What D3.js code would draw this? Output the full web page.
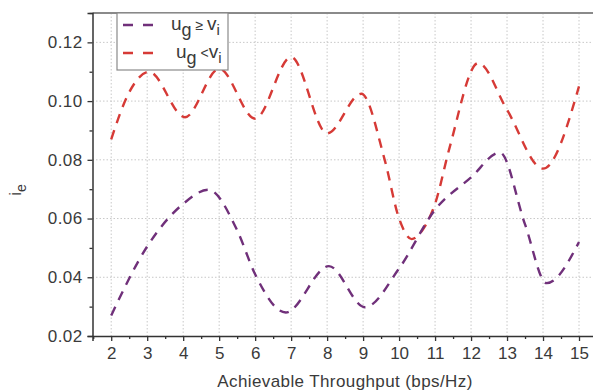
<!DOCTYPE html>
<html>
<head>
<meta charset="utf-8">
<script src="https://cdn.jsdelivr.net/npm/d3@7"></script>
<style>
  html, body { margin: 0; padding: 0; background: #fff; }
  svg { display: block; }
  text { font-family: "Liberation Sans", Arial, Helvetica, sans-serif; fill: #3a3a3a; }
</style>
</head>
<body>
<svg id="chart" width="593" height="392"></svg>
<script>
// Interference level i_e versus achievable throughput, two regimes
const seriesNames = ["ug_ge_vi", "ug_lt_vi"];

// u_g >= v_i  (x in bps/Hz, y = i_e)
const geX = [2, 3, 4, 4.7, 5.5, 6, 6.85, 8.05, 9.05, 10, 11, 12, 12.8, 13.5, 14.1, 15];
const geY = [0.027, 0.0505, 0.065, 0.0698, 0.056, 0.041, 0.028, 0.0438, 0.0298, 0.043, 0.063, 0.074, 0.0825, 0.058, 0.038, 0.052];

// u_g < v_i
const ltX = [2, 2.5, 3.05, 4.05, 5.0, 6.0, 7.0, 8.0, 8.95, 9.6, 10.0, 10.35, 10.7, 11.0, 11.4, 12.2, 13.0, 14.0, 15.0];
const ltY = [0.087, 0.103, 0.110, 0.0945, 0.111, 0.094, 0.115, 0.089, 0.1025, 0.080, 0.060, 0.053, 0.057, 0.065, 0.084, 0.113, 0.097, 0.077, 0.105];

const xTicks = [2, 3, 4, 5, 6, 7, 8, 9, 10, 11, 12, 13, 14, 15];
const yTicks = [0.02, 0.04, 0.06, 0.08, 0.10, 0.12];
const xMinorTicks = [1.5, 2.5, 3.5, 4.5, 5.5, 6.5, 7.5, 8.5, 9.5, 10.5, 11.5, 12.5, 13.5, 14.5, 15.5];
const yMinorTicks = [0.03, 0.05, 0.07, 0.09, 0.11, 0.13];

const svg = d3.select("#chart");
const plotL = 92.5, plotT = 13, plotB = 336, plotR = 597;

const x = d3.scaleLinear().domain([1.48, 15.5]).range([plotL, plotR]);
const y = d3.scaleLinear().domain([0.02, 0.13]).range([plotB, plotT]);

// dotted grid
const grid = svg.append("g");
grid.selectAll("line.vx").data(xTicks).join("line")
  .attr("x1", d => x(d)).attr("x2", d => x(d))
  .attr("y1", plotT).attr("y2", plotB)
  .attr("stroke", "#c8c8c8").attr("stroke-width", 1).attr("stroke-dasharray", "1.5,2");
grid.selectAll("line.hy").data(yTicks.filter(d => d > 0.02)).join("line")
  .attr("x1", plotL).attr("x2", plotR)
  .attr("y1", d => y(d)).attr("y2", d => y(d))
  .attr("stroke", "#c8c8c8").attr("stroke-width", 1).attr("stroke-dasharray", "1.5,2");

// frame top edge
svg.append("line")
  .attr("x1", plotL).attr("x2", plotR).attr("y1", plotT).attr("y2", plotT)
  .attr("stroke", "#8a8a8a").attr("stroke-width", 2);

// axes
const xAxis = svg.append("g").attr("transform", `translate(0,${plotB})`)
  .call(d3.axisBottom(x).tickValues(xTicks).tickFormat(d3.format("d")).tickSize(5).tickPadding(6));
const xMinor = svg.append("g").attr("transform", `translate(0,${plotB})`)
  .call(d3.axisBottom(x).tickValues(xMinorTicks).tickFormat("").tickSize(3));
const yAxis = svg.append("g").attr("transform", `translate(${plotL},0)`)
  .call(d3.axisLeft(y).tickValues(yTicks).tickFormat(d3.format(".2f")).tickSize(5).tickPadding(5));
const yMinor = svg.append("g").attr("transform", `translate(${plotL},0)`)
  .call(d3.axisLeft(y).tickValues(yMinorTicks).tickFormat("").tickSize(3));

[xAxis, xMinor, yAxis, yMinor].forEach(g => {
  g.select(".domain").attr("stroke", "#333").attr("stroke-width", 1.5);
  g.selectAll(".tick line").attr("stroke", "#333").attr("stroke-width", 1.3);
});
xMinor.select(".domain").remove();
yMinor.select(".domain").remove();
xAxis.selectAll(".tick text").attr("font-size", 17).attr("fill", "#3a3a3a");
yAxis.selectAll(".tick text").attr("font-size", 17).attr("fill", "#3a3a3a").attr("letter-spacing", "0.4px");

// series lines
const line = d3.line().x(d => x(d[0])).y(d => y(d[1])).curve(d3.curveMonotoneX);
const geData = geX.map((v, i) => [v, geY[i]]);
const ltData = ltX.map((v, i) => [v, ltY[i]]);
const colors = { ug_ge_vi: "#70307a", ug_lt_vi: "#d63a36" };

svg.append("path").datum(ltData).attr("d", line)
  .attr("fill", "none").attr("stroke", colors.ug_lt_vi).attr("stroke-width", 2.4)
  .attr("stroke-dasharray", "9.5,7.5");
svg.append("path").datum(geData).attr("d", line)
  .attr("fill", "none").attr("stroke", colors.ug_ge_vi).attr("stroke-width", 2.4)
  .attr("stroke-dasharray", "9.5,7.5");

// legend
const lg = svg.append("g");
lg.append("rect").attr("x", 117).attr("y", plotT).attr("width", 111).attr("height", 57)
  .attr("fill", "#fff").attr("stroke", "#8a8a8a").attr("stroke-width", 1.2);
const legendRows = [
  { key: "ug_ge_vi", y: 25, rel: " \u2265 ", tx: 171 },
  { key: "ug_lt_vi", y: 53, rel: " <", tx: 176 }
];
legendRows.forEach(r => {
  lg.append("line").attr("x1", 123).attr("x2", 156).attr("y1", r.y).attr("y2", r.y)
    .attr("stroke", colors[r.key]).attr("stroke-width", 2.4).attr("stroke-dasharray", "10,10");
  const t = lg.append("text").attr("x", r.tx).attr("y", r.y + 5).attr("font-size", 19);
  t.append("tspan").text("u");
  t.append("tspan").attr("dy", 6).attr("font-size", 18).text("g");
  t.append("tspan").attr("dy", -6).attr("font-size", 14).text(r.rel);
  t.append("tspan").attr("font-size", 19).text("v");
  t.append("tspan").attr("dy", 5).attr("font-size", 15).text("i");
});

// axis titles
svg.append("text").attr("x", 345).attr("y", 387).attr("text-anchor", "middle")
  .attr("font-size", 17).attr("letter-spacing", "0.4px").text("Achievable Throughput (bps/Hz)");
const yl = svg.append("text").attr("transform", "translate(21,190) rotate(-90)")
  .attr("text-anchor", "middle").attr("font-size", 17);
yl.append("tspan").text("i");
yl.append("tspan").attr("dy", 5).attr("font-size", 14).text("e");
</script>
</body>
</html>
